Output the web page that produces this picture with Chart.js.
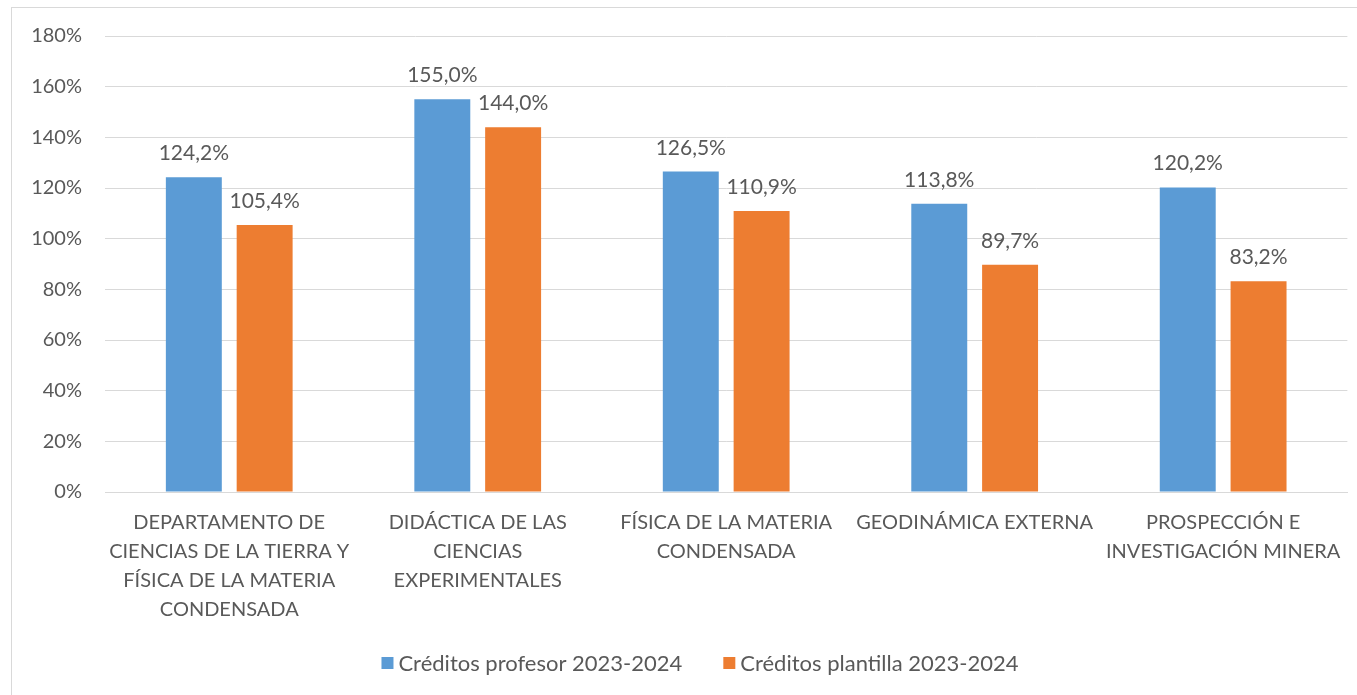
<!DOCTYPE html>
<html>
<head>
<meta charset="utf-8">
<script src="https://cdn.jsdelivr.net/npm/chart.js@4"></script>
<style>
html,body{margin:0;padding:0;background:#fff;overflow:hidden;}
#frame{position:absolute;left:11px;top:7px;width:1400px;height:760px;border:1px solid #d9d9d9;box-sizing:border-box;}
#wrap{position:absolute;left:0;top:0;width:1357px;height:695px;}
</style>
</head>
<body>
<div id="frame"></div>
<div id="wrap"><canvas id="c" width="1357" height="695"></canvas></div>
<script>
const categories = [
  ["DEPARTAMENTO DE", "CIENCIAS DE LA TIERRA Y", "FÍSICA DE LA MATERIA", "CONDENSADA"],
  ["DIDÁCTICA DE LAS", "CIENCIAS", "EXPERIMENTALES"],
  ["FÍSICA DE LA MATERIA", "CONDENSADA"],
  ["GEODINÁMICA EXTERNA"],
  ["PROSPECCIÓN E", "INVESTIGACIÓN MINERA"]
];
const seriesNames = ["Créditos profesor 2023-2024", "Créditos plantilla 2023-2024"];
const profesor = [124.2, 155.0, 126.5, 113.8, 120.2];
const plantilla = [105.4, 144.0, 110.9, 89.7, 83.2];
const yTicks = [0, 20, 40, 60, 80, 100, 120, 140, 160, 180];
const colors = ['#5b9bd5', '#ed7d31'];

const FONT = "Lato, 'Open Sans', sans-serif";
const TXT = "#595959";

const labelPlugin = {
  id: 'barLabels',
  afterDatasetsDraw(chart) {
    const ctx = chart.ctx;
    ctx.save();
    ctx.font = "21px " + FONT;
    ctx.fillStyle = TXT;
    ctx.textAlign = "center";
    ctx.textBaseline = "alphabetic";
    chart.data.datasets.forEach((ds, i) => {
      const meta = chart.getDatasetMeta(i);
      meta.data.forEach((bar, j) => {
        const v = ds.data[j];
        const s = v.toFixed(1).replace('.', ',') + '%';
        ctx.fillText(s, bar.x, bar.y - 17);
      });
    });
    ctx.restore();
  }
};

const legendPlugin = {
  id: 'customLegend',
  afterDraw(chart) {
    const ctx = chart.ctx;
    ctx.save();
    ctx.font = "22px " + FONT;
    const box = 12, gapBoxText = 5, gapItems = 41;
    const items = chart.data.datasets.map(ds => ({ text: ds.label, color: ds.backgroundColor, w: ctx.measureText(ds.label).width }));
    let total = 0;
    items.forEach((it, k) => { total += box + gapBoxText + it.w + (k < items.length - 1 ? gapItems : 0); });
    const cx = 700, cy = 663;
    let x = cx - total / 2;
    ctx.textBaseline = "middle";
    ctx.textAlign = "left";
    items.forEach(it => {
      ctx.fillStyle = it.color;
      ctx.fillRect(x, cy - box / 2, box, box);
      x += box + gapBoxText;
      ctx.fillStyle = TXT;
      ctx.fillText(it.text, x, cy + 1);
      x += it.w + gapItems;
    });
    ctx.restore();
  }
};

new Chart(document.getElementById('c'), {
  type: 'bar',
  data: {
    labels: categories,
    datasets: [
      { label: seriesNames[0], data: profesor, backgroundColor: colors[0] },
      { label: seriesNames[1], data: plantilla, backgroundColor: colors[1] }
    ]
  },
  plugins: [labelPlugin, legendPlugin],
  options: {
    responsive: false,
    animation: false,
    devicePixelRatio: 1,
    layout: { padding: { left: 0, right: 7, top: 36, bottom: 68 } },
    categoryPercentage: 0.57,
    barPercentage: 0.79,
    plugins: {
      legend: { display: false },
      tooltip: { enabled: false }
    },
    scales: {
      x: {
        grid: { display: false, drawTicks: false },
        border: { color: '#d9d9d9', width: 1 },
        ticks: {
          font: { size: 20, family: FONT, lineHeight: 1.45 },
          color: TXT,
          maxRotation: 0,
          autoSkip: false,
          padding: 16
        },
        afterFit(scale) { scale.height = 695 - 68 - 492; }
      },
      y: {
        min: 0, max: 180,
        afterBuildTicks(scale) { scale.ticks = yTicks.map(v => ({ value: v })); },
        grid: { color: '#d9d9d9', lineWidth: 1, drawTicks: false },
        border: { display: false },
        ticks: {
          font: { size: 20, family: FONT },
          color: TXT,
          padding: 23,
          callback: v => v + '%'
        },
        afterFit(scale) { scale.width = 105; }
      }
    }
  }
});
</script>
</body>
</html>
